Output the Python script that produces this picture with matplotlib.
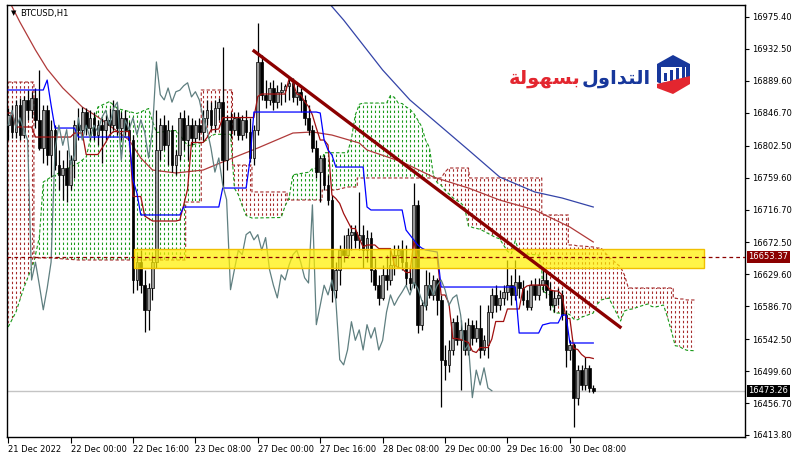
import numpy as np
import matplotlib
matplotlib.use('Agg')
import matplotlib.pyplot as plt
from matplotlib.path import Path
from matplotlib.patches import Polygon, Rectangle
from matplotlib.transforms import blended_transform_factory

# BTCUSD H1, bar 0 = 21 Dec 2022 08:00 (broker time)
opens = [16830, 16844, 16821, 16857, 16817, 16864, 16850, 16866, 16837, 16799,
         16850, 16790, 16824, 16776, 16763, 16772, 16750, 16783, 16830, 16824,
         16848, 16826, 16840, 16817, 16830, 16824, 16837, 16830, 16850, 16826,
         16840, 16824, 16810, 16622, 16646, 16615, 16582, 16611, 16646, 16797,
         16830, 16803, 16824, 16777, 16790, 16840, 16810, 16830, 16813, 16830,
         16821, 16840, 16850, 16830, 16853, 16861, 16783, 16837, 16824, 16840,
         16817, 16837, 16821, 16786, 16824, 16915, 16871, 16864, 16880, 16861,
         16875, 16877, 16883, 16887, 16868, 16875, 16864, 16840, 16824, 16799,
         16767, 16786, 16750, 16730, 16609, 16636, 16662, 16656, 16683, 16687,
         16676, 16683, 16662, 16679, 16636, 16615, 16598, 16629, 16622, 16642,
         16656, 16662, 16646, 16625, 16618, 16723, 16562, 16588, 16615, 16602,
         16622, 16595, 16515, 16508, 16528, 16566, 16541, 16555, 16528, 16562,
         16544, 16558, 16528, 16535, 16579, 16602, 16588, 16598, 16606, 16615,
         16602, 16619, 16611, 16595, 16586, 16615, 16602, 16615, 16622, 16609,
         16588, 16598, 16602, 16575, 16528, 16535, 16464, 16501, 16481, 16504,
         16477]
highs = [16853, 16857, 16864, 16866, 16869, 16877, 16875, 16880, 16904, 16857,
         16857, 16837, 16830, 16797, 16783, 16797, 16790, 16837, 16853, 16854,
         16853, 16850, 16848, 16837, 16840, 16844, 16853, 16864, 16857, 16848,
         16850, 16834, 16817, 16656, 16662, 16636, 16618, 16656, 16850, 16840,
         16844, 16837, 16830, 16797, 16848, 16850, 16844, 16840, 16837, 16840,
         16850, 16864, 16861, 16864, 16867, 16935, 16844, 16848, 16848, 16848,
         16844, 16850, 16840, 16830, 16967, 16924, 16891, 16888, 16891, 16884,
         16888, 16885, 16893, 16893, 16884, 16880, 16871, 16857, 16830, 16810,
         16790, 16790, 16763, 16736, 16646, 16669, 16682, 16692, 16696, 16696,
         16740, 16696, 16689, 16687, 16652, 16629, 16642, 16656, 16662, 16669,
         16669, 16676, 16669, 16642, 16752, 16730, 16595, 16636, 16633, 16629,
         16625, 16602, 16535, 16541, 16571, 16575, 16568, 16566, 16571, 16568,
         16568, 16588, 16548, 16588, 16611, 16615, 16609, 16615, 16649, 16629,
         16649, 16629, 16622, 16609, 16622, 16625, 16625, 16636, 16633, 16619,
         16609, 16611, 16609, 16582, 16541, 16537, 16508, 16508, 16519, 16508,
         16481]
lows = [16810, 16813, 16813, 16810, 16813, 16837, 16840, 16826, 16797, 16779,
        16776, 16760, 16770, 16743, 16730, 16727, 16743, 16759, 16810, 16813,
        16817, 16810, 16810, 16803, 16779, 16810, 16817, 16824, 16817, 16810,
        16817, 16803, 16605, 16609, 16605, 16552, 16555, 16595, 16638, 16783,
        16797, 16777, 16767, 16763, 16783, 16797, 16783, 16803, 16807, 16810,
        16810, 16830, 16824, 16821, 16837, 16746, 16770, 16813, 16817, 16810,
        16810, 16813, 16781, 16777, 16817, 16864, 16853, 16857, 16850, 16853,
        16857, 16861, 16864, 16861, 16857, 16848, 16830, 16817, 16794, 16759,
        16727, 16743, 16723, 16593, 16598, 16615, 16646, 16652, 16662, 16665,
        16662, 16638, 16646, 16619, 16609, 16588, 16595, 16609, 16615, 16629,
        16638, 16636, 16615, 16609, 16611, 16551, 16555, 16582, 16598, 16595,
        16575, 16451, 16488, 16498, 16521, 16535, 16474, 16521, 16521, 16535,
        16539, 16517, 16521, 16517, 16571, 16579, 16582, 16588, 16595, 16588,
        16595, 16598, 16588, 16582, 16582, 16595, 16595, 16606, 16598, 16582,
        16579, 16588, 16568, 16505, 16515, 16425, 16454, 16474, 16474, 16472,
        16470]
closes = [16844, 16821, 16857, 16817, 16864, 16850, 16866, 16837, 16799, 16850,
          16790, 16824, 16776, 16763, 16772, 16750, 16783, 16830, 16824, 16848,
          16826, 16840, 16817, 16830, 16824, 16837, 16830, 16850, 16826, 16840,
          16824, 16810, 16622, 16646, 16615, 16582, 16611, 16646, 16797, 16830,
          16803, 16824, 16777, 16790, 16840, 16810, 16830, 16813, 16830, 16821,
          16840, 16850, 16830, 16853, 16861, 16783, 16837, 16824, 16840, 16817,
          16837, 16821, 16786, 16824, 16915, 16871, 16864, 16880, 16861, 16875,
          16877, 16883, 16887, 16868, 16875, 16864, 16840, 16824, 16799, 16767,
          16786, 16750, 16730, 16609, 16636, 16662, 16656, 16683, 16687, 16676,
          16683, 16662, 16679, 16636, 16615, 16598, 16629, 16622, 16642, 16656,
          16662, 16646, 16625, 16618, 16723, 16562, 16588, 16615, 16602, 16622,
          16595, 16515, 16508, 16528, 16566, 16541, 16555, 16528, 16562, 16544,
          16558, 16528, 16541, 16579, 16602, 16588, 16598, 16606, 16615, 16602,
          16619, 16611, 16595, 16586, 16615, 16602, 16615, 16622, 16609, 16588,
          16598, 16602, 16575, 16528, 16535, 16464, 16501, 16481, 16504, 16477,
          16473.26]

# Ichimoku lines (bar, price)
tenkan = [(0, 16846.4), (1, 16846.4), (2, 16827.6), (6, 16827.6), (7, 16814.1), (16, 16814.1),
          (17, 16819.5), (19, 16819.5), (20, 16790.6), (23, 16790.6), (24, 16798.7), (25, 16806.8),
          (26, 16816.8), (27, 16821.5), (31, 16821.5), (32, 16734.2), (34, 16734.2), (35, 16708.0),
          (36, 16704.6), (37, 16701.3), (43, 16701.3), (44, 16702.6), (45, 16722.8), (46, 16744.3),
          (47, 16806.8), (50, 16806.8), (51, 16813.5), (52, 16823.6), (54, 16824.9), (55, 16840.3),
          (63, 16840.3), (64, 16868.6), (65, 16871.9), (71, 16871.9), (72, 16892.1), (73, 16887.4),
          (74, 16871.9), (75, 16870.6), (76, 16861.8), (77, 16855.1), (78, 16843.7), (79, 16826.2),
          (80, 16810.1), (81, 16810.1), (82, 16803.4), (83, 16736.2), (84, 16731.5), (85, 16724.8),
          (86, 16711.4), (87, 16701.3), (88, 16691.2), (89, 16691.2), (90, 16677.8), (91, 16666.4),
          (92, 16669.1), (94, 16669.1), (95, 16664.3), (98, 16664.3), (99, 16642.2), (100, 16638.8),
          (101, 16637.5), (102, 16632.1), (103, 16632.1), (104, 16673.8), (105, 16651.6), (110, 16651.6),
          (111, 16601.9), (112, 16601.9), (113, 16590.5), (114, 16543.4), (115, 16543.4), (116, 16542.1),
          (117, 16540.1), (118, 16538.1), (119, 16526.6), (120, 16524.6), (121, 16531.3), (123, 16531.3),
          (124, 16542.8), (125, 16566.3), (127, 16566.3), (128, 16583.1), (131, 16583.1), (132, 16610.0),
          (133, 16614.0), (134, 16615.3), (138, 16615.3), (139, 16608.6), (140, 16607.2), (141, 16607.2),
          (142, 16601.9), (143, 16570.3), (144, 16570.3), (145, 16530.0), (146, 16528.7), (147, 16522.0),
          (148, 16517.9), (149, 16517.9), (150, 16516.6)]
kijun = [(0, 16877.3), (9, 16877.3), (10, 16890.7), (11, 16857.1), (12, 16826.2), (17, 16826.2),
         (18, 16814.1), (31, 16814.1), (32, 16756.4), (33, 16738.9), (34, 16709.4), (44, 16709.4),
         (45, 16720.1), (54, 16720.1), (55, 16745.6), (61, 16745.6), (62, 16783.2), (63, 16847.7),
         (79, 16847.7), (80, 16846.4), (81, 16810.1), (82, 16796.7), (83, 16790.0), (84, 16773.8),
         (91, 16773.8), (92, 16720.1), (93, 16716.1), (101, 16716.1), (102, 16689.2), (104, 16675.8),
         (105, 16669.1), (106, 16665.0), (107, 16662.4), (110, 16659.6), (111, 16612.6), (130, 16612.6),
         (131, 16550.8), (136, 16550.8), (137, 16561.6), (139, 16564.3), (141, 16564.3), (142, 16575.0),
         (143, 16575.0), (144, 16537.4), (150, 16537.4)]
# cloud: (bar, senkou span A, senkou span B)
cloud = [(0, 16558.9, 16888.0), (2, 16579.0, 16888.0), (4, 16611.3, 16888.0), (6, 16638.1, 16888.0),
         (6.6, 16646.2, 16888.0), (6.6, 16646.2, 16651.6), (8, 16679.8, 16651.6), (9, 16753.7, 16651.6),
         (11, 16760.4, 16651.6), (18, 16779.2, 16648.9), (20, 16787.3, 16648.9), (23, 16854.4, 16648.9),
         (26, 16861.8, 16648.9), (28, 16852.4, 16648.9), (33, 16845.7, 16648.9), (36, 16852.4, 16648.9),
         (37, 16835.6, 16648.9), (38, 16820.2, 16648.9), (43, 16822.9, 16648.9), (44, 16816.8, 16648.9),
         (45.5, 16806.1, 16648.9), (45.5, 16806.1, 16726.8), (46, 16802.4, 16726.8), (49.5, 16806.4, 16726.8),
         (49.5, 16806.4, 16877.3), (51, 16810.4, 16877.3), (52, 16815.5, 16877.3), (53, 16817.8, 16877.3),
         (57, 16817.8, 16877.3), (57.5, 16781.9, 16877.3), (57.5, 16781.9, 16776.5), (58, 16745.3, 16776.5),
         (59, 16736.6, 16776.5), (60, 16721.8, 16776.5), (61, 16708.7, 16776.5), (62.5, 16705.3, 16776.5),
         (62.5, 16705.3, 16740.3), (70, 16706.0, 16740.3), (71, 16721.4, 16740.3), (71.5, 16726.8, 16740.3),
         (71.5, 16726.8, 16729.5), (72, 16732.2, 16729.5), (73, 16763.4, 16729.5), (77, 16766.8, 16729.5),
         (78, 16771.8, 16729.5), (80, 16772.5, 16729.5), (80.5, 16783.2, 16729.5), (80.5, 16783.2, 16742.9),
         (81, 16793.0, 16742.9), (84, 16793.0, 16742.9), (87, 16793.0, 16747.0), (88, 16811.8, 16747.0),
         (89, 16844.0, 16747.0), (89.5, 16850.4, 16747.0), (89.5, 16850.4, 16759.1), (90, 16858.1, 16759.1),
         (91, 16859.8, 16759.1), (97, 16859.8, 16759.1), (98, 16869.9, 16759.1), (99, 16867.5, 16759.1),
         (100, 16859.8, 16759.1), (101, 16859.1, 16759.1), (102, 16854.8, 16759.1), (103, 16851.4, 16759.1),
         (104, 16845.7, 16759.1), (105, 16837.0, 16759.1), (106, 16828.3, 16759.1), (107, 16810.1, 16759.1),
         (108, 16800.0, 16759.1), (109, 16763.1, 16759.1), (110, 16752.7, 16759.1), (111, 16749.3, 16759.1),
         (112, 16742.6, 16767.1), (113, 16737.6, 16772.5), (114, 16732.5, 16772.5), (116, 16725.8, 16772.5),
         (117, 16720.1, 16772.5), (118, 16694.6, 16772.5), (118.3, 16694.6, 16759.1), (119, 16692.6, 16759.1),
         (121, 16690.2, 16759.1), (125, 16679.1, 16759.1), (126, 16677.4, 16759.1), (128, 16660.6, 16759.1),
         (129, 16657.3, 16759.1), (130, 16674.8, 16759.1), (131, 16660.3, 16759.1), (132, 16658.3, 16759.1),
         (133, 16656.9, 16759.1), (136, 16655.6, 16759.1), (136.8, 16635.5, 16759.1), (136.8, 16635.5, 16709.4),
         (137, 16607.2, 16709.4), (139, 16601.5, 16709.4), (140, 16578.0, 16709.4), (142, 16577.3, 16709.4),
         (143, 16576.3, 16709.4), (143.6, 16576.3, 16709.4), (143.6, 16576.3, 16669.1), (144, 16575.3, 16669.1),
         (145, 16569.6, 16669.1), (146, 16568.6, 16667.7), (147, 16572.0, 16667.7), (150, 16577.7, 16666.4),
         (151, 16589.4, 16665.0), (152, 16595.2, 16665.0), (154, 16597.8, 16652.9), (157, 16566.9, 16639.5),
         (158, 16580.4, 16628.7), (159, 16582.4, 16611.3), (160, 16583.1, 16611.3), (163, 16588.4, 16611.3),
         (164, 16589.8, 16611.3), (165, 16586.4, 16611.3), (166, 16585.8, 16611.3), (168, 16588.4, 16611.3),
         (169, 16572.6, 16611.3), (170, 16553.8, 16611.3), (170.5, 16544.1, 16611.3), (170.5, 16544.1, 16597.8),
         (171, 16533.7, 16597.8), (172, 16533.0, 16596.5), (173, 16529.7, 16596.5), (174, 16527.6, 16595.2),
         (176, 16527.0, 16595.2)]
# moving averages (bar, price)
ma_red = [(0, 16999.5), (3, 16968.6), (7, 16931.0), (10, 16905.5), (14, 16880.0), (19, 16854.4),
          (23, 16841.0), (31, 16810.1), (34, 16785.9), (37, 16769.8), (43, 16765.8), (50, 16769.8),
          (55, 16780.6), (64, 16799.4), (73, 16819.5), (78, 16820.9), (83, 16816.8), (90, 16806.1),
          (92, 16796.7), (101, 16780.6), (109, 16760.4), (118, 16745.6), (126, 16729.5), (135, 16716.1),
          (144, 16693.2), (150, 16673.1)]
ma_blue = [(82, 16995.5), (86, 16971.3), (96, 16904.2), (103, 16863.9), (109, 16837.0),
           (118, 16796.7), (126, 16760.4), (135, 16740.3), (142, 16732.2), (150, 16720.1)]

trend_x = [62.7, 157.2]
trend_y = [16931.0, 16557.5]
zone_x = [32.3, 178.5]
zone_y = [16638.2, 16663.7]
level = 16653.37
bid = 16473.26

ytick_vals = [16975.40, 16932.50, 16889.60, 16846.70, 16802.50, 16759.60, 16716.70,
              16672.50, 16629.60, 16586.70, 16542.50, 16499.60, 16456.70, 16413.80]
xtick_bars = [0, 16, 32, 48, 64, 80, 96, 112, 128, 144]
xtick_labels = ['21 Dec 2022', '22 Dec 00:00', '22 Dec 16:00', '23 Dec 08:00', '27 Dec 00:00',
                '27 Dec 16:00', '28 Dec 08:00', '29 Dec 00:00', '29 Dec 16:00', '30 Dec 08:00']

fig = plt.figure(figsize=(8, 4.59), dpi=100)
ax = fig.add_axes([7/800, 22/459, 738/800, 432/459])
ax.set_xlim(-0.3, 188.9)
ax.set_ylim(16411.1, 16991.5)

# cloud: dotted columns clipped to the area between the spans
cx = np.array([c[0] for c in cloud])
ca = np.array([c[1] for c in cloud])
cb = np.array([c[2] for c in cloud])
cols = np.arange(0, 177)
for up, col in [(True, '#1a9a1a'), (False, '#a52a2a')]:
    w = ca >= cb if up else ca <= cb
    pc = ax.fill_between(cx, ca, cb, where=w, interpolate=True, facecolor='none',
                         edgecolor='none', linewidth=0)
    paths = pc.get_paths()
    if len(paths) == 0:
        continue
    clip = Path.make_compound_path(*paths)
    lc = ax.vlines(cols, 16400, 17000, colors=col, linestyles=(0, (2.2, 2.2)), lw=0.8, zorder=1)
    lc.set_clip_path(clip, ax.transData)
ax.plot(cx, ca, color='#1a9a1a', lw=0.8, ls=(0, (3, 2)), zorder=1.5)
ax.plot(cx, cb, color='#a52a2a', lw=0.8, ls=(0, (3, 2)), zorder=1.5)

# moving averages
ax.plot(*zip(*ma_red), color='#b03a3a', lw=0.9, zorder=2)
ax.plot(*zip(*ma_blue), color='#3444a8', lw=0.9, zorder=2)

# candles
xs = np.arange(len(closes))
o = np.array(opens, float)
c = np.array(closes, float)
ax.vlines(xs, lows, highs, color='black', lw=0.9, zorder=3)
bull = c >= o
ax.bar(xs[bull], (c - o)[bull], bottom=o[bull], width=0.7, color='#9a9a9a',
       edgecolor='black', lw=0.5, zorder=3.1)
ax.bar(xs[~bull], (o - c)[~bull], bottom=c[~bull], width=0.7, color='black',
       edgecolor='black', lw=0.5, zorder=3.1)

# ichimoku lines
ax.plot(*zip(*tenkan), color='#a01010', lw=0.9, zorder=3.5)
ax.plot(*zip(*kijun), color='#0000ff', lw=0.9, zorder=3.5)
ax.plot(xs[26:] - 26, c[26:], color='#5f7f80', lw=0.9, zorder=3.5)

# support zone, level, bid line, trend line
ax.add_patch(Rectangle((zone_x[0], zone_y[0]), zone_x[1] - zone_x[0], zone_y[1] - zone_y[0],
                       facecolor='#fff000', alpha=0.72, edgecolor='none', zorder=4))
ax.add_patch(Rectangle((zone_x[0], zone_y[0]), zone_x[1] - zone_x[0], zone_y[1] - zone_y[0],
                       facecolor='none', edgecolor='#f0c000', lw=1, zorder=4.1))
ax.axhline(level, color='#8b0000', lw=0.9, ls=(0, (3, 2.5)), zorder=5)
ax.axhline(bid, color='#c4c4c4', lw=1, zorder=0.5)
ax.plot(trend_x, trend_y, color='#8b0000', lw=2.4, solid_capstyle='butt', zorder=6)

# axes styling
ax.yaxis.tick_right()
ax.set_yticks(ytick_vals)
ax.set_yticklabels(['%.2f' % v for v in ytick_vals])
ax.set_xticks(xtick_bars)
ax.set_xticklabels(xtick_labels)
for lbl in ax.get_xticklabels():
    lbl.set_horizontalalignment('left')
ax.tick_params(axis='y', length=3, width=0.8, pad=2, labelsize=6, colors='black')
ax.tick_params(axis='x', length=4, width=0.8, pad=1.5, labelsize=6)
for s in ax.spines.values():
    s.set_color('black')
    s.set_linewidth(1)

tr = blended_transform_factory(ax.transAxes, ax.transData)
ax.annotate('%.2f' % level, xy=(1, level), xycoords=tr, xytext=(2.5, 0), textcoords='offset points',
            fontsize=6, color='white', va='center', ha='left', annotation_clip=False,
            bbox=dict(boxstyle='square,pad=0.2', fc='#8b0000', ec='none'), zorder=10)
ax.annotate('%.2f' % bid, xy=(1, bid), xycoords=tr, xytext=(2.5, 0), textcoords='offset points',
            fontsize=6, color='white', va='center', ha='left', annotation_clip=False,
            bbox=dict(boxstyle='square,pad=0.2', fc='black', ec='none'), zorder=10)

ax.text(0.006, 0.988, '\u25bc', transform=ax.transAxes, fontsize=5, va='top', ha='left', zorder=10)
ax.text(0.018, 0.99, 'BTCUSD,H1', transform=ax.transAxes, fontsize=6, va='top', ha='left', zorder=10)

# logo (التداول بسهولة)
ov = fig.add_axes([0, 0, 1, 1])
ov.set_xlim(0, 800)
ov.set_ylim(459, 0)
ov.axis('off')
ov.patch.set_alpha(0)
red_word = '\uFE94\uFEDF\uFEEE\uFEEC\uFEB4\uFE91'
blue_word = '\uFEDD\uFEED\uFE8D\uFEAA\uFE98\uFEDF\uFE8D'
ov.text(581, 78, red_word, color='#e3262f', fontsize=14, fontweight='bold', ha='right', va='center')
ov.text(651, 78, blue_word, color='#17379b', fontsize=14, fontweight='bold', ha='right', va='center')
ov.add_patch(Polygon([(673, 55), (690, 64), (690, 82), (673, 90), (657, 82), (657, 64)],
                     closed=True, fc='#17379b', ec='none'))
ov.add_patch(Polygon([(661, 67), (686, 67), (686, 79), (661, 83)], closed=True, fc='white', ec='none'))
for bx, bh in [(663.5, 8), (669.5, 11), (675.5, 13), (681.5, 15)]:
    ov.add_patch(Rectangle((bx, 81 - bh), 3, bh, fc='#17379b', ec='none'))
ov.add_patch(Polygon([(657, 84), (690, 76), (690, 84), (673, 94), (657, 88)],
                     closed=True, fc='#e3262f', ec='none'))

fig.savefig('out.png', dpi=100)
